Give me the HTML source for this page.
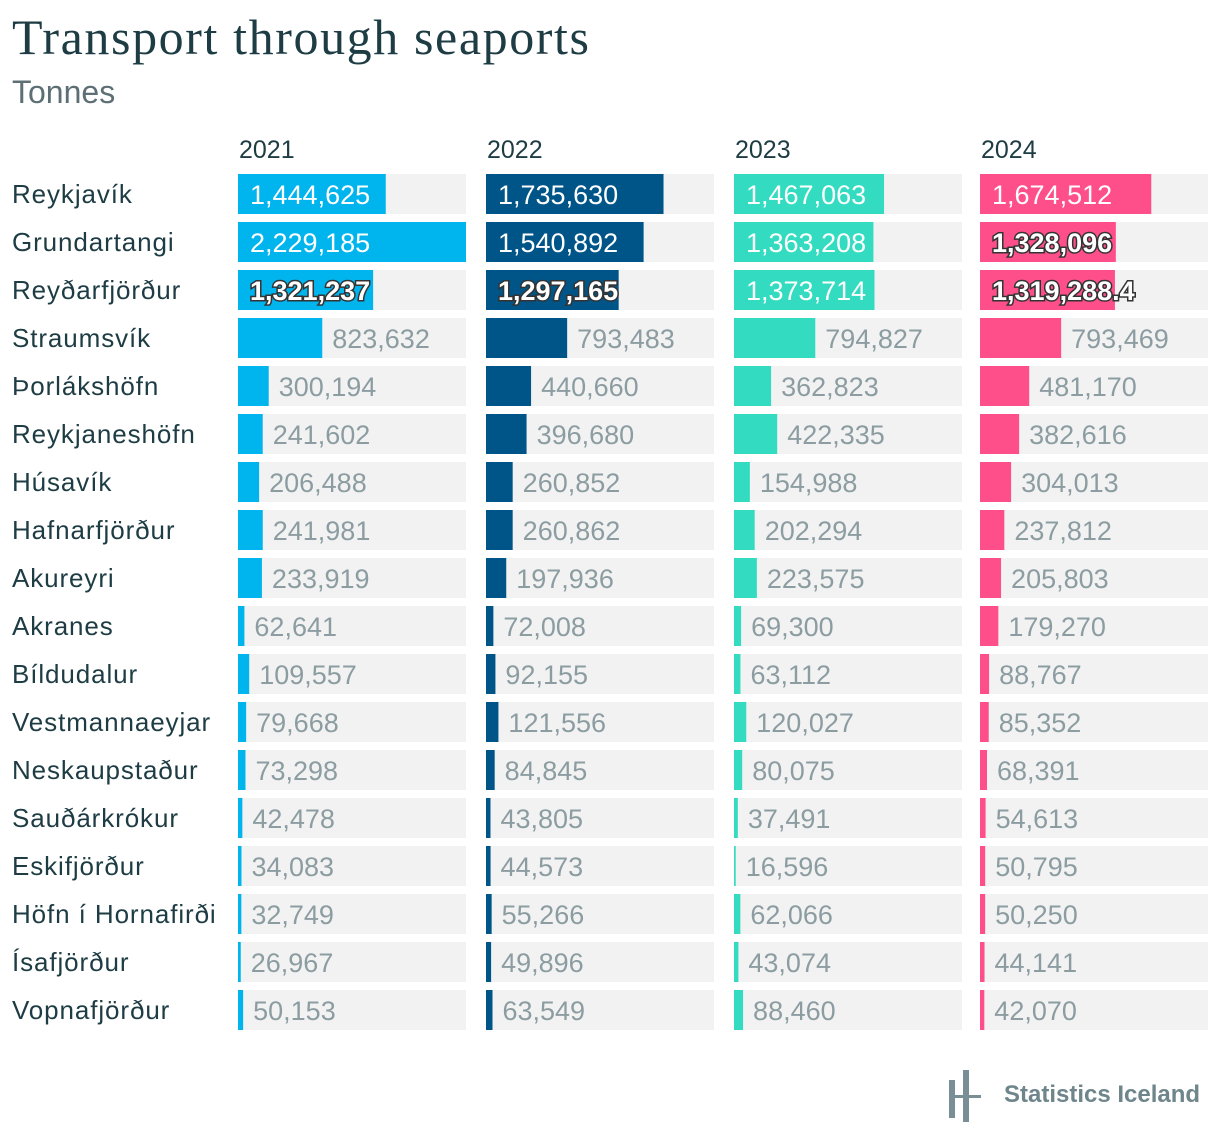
<!DOCTYPE html>
<html><head><meta charset="utf-8"><style>
body{margin:0;width:1220px;height:1146px;background:#fff;font-family:"Liberation Sans",sans-serif;position:relative;overflow:hidden}
.t{position:absolute;white-space:nowrap}
</style></head><body>
<div class="t" style="left:12px;top:8px;font-family:'Liberation Serif',serif;font-size:50px;letter-spacing:1.6px;color:#1d3c43">Transport through seaports</div>
<div class="t" style="left:12px;top:74px;font-size:32px;color:#5d6f75;font-weight:300">Tonnes</div>
<svg id="chart" width="1220" height="1146" style="position:absolute;left:0;top:0"></svg>
<div class="t" style="left:946px;top:1070px;width:260px;height:52px">
<svg width="40" height="52" style="position:absolute;left:0;top:0"><rect x="3" y="10" width="6" height="38" fill="#7a8f95"/><rect x="17" y="0" width="6" height="52" fill="#7a8f95"/><rect x="3" y="25" width="32" height="3" fill="#7a8f95"/></svg>
<span style="position:absolute;left:58px;top:11px;font-size:24px;color:#6e858b;font-weight:bold">Statistics Iceland</span></div>
<script>
const categories=["Reykjavík","Grundartangi","Reyðarfjörður","Straumsvík","Þorlákshöfn","Reykjaneshöfn","Húsavík","Hafnarfjörður","Akureyri","Akranes","Bíldudalur","Vestmannaeyjar","Neskaupstaður","Sauðárkrókur","Eskifjörður","Höfn í Hornafirði","Ísafjörður","Vopnafjörður"];
const years=["2021","2022","2023","2024"];
const v2021=[1444625,2229185,1321237,823632,300194,241602,206488,241981,233919,62641,109557,79668,73298,42478,34083,32749,26967,50153];
const v2022=[1735630,1540892,1297165,793483,440660,396680,260852,260862,197936,72008,92155,121556,84845,43805,44573,55266,49896,63549];
const v2023=[1467063,1363208,1373714,794827,362823,422335,154988,202294,223575,69300,63112,120027,80075,37491,16596,62066,43074,88460];
const v2024=[1674512,1328096,1319288.4,793469,481170,382616,304013,237812,205803,179270,88767,85352,68391,54613,50795,50250,44141,42070];
const series=[v2021,v2022,v2023,v2024];
const colors=["#00b4ee","#005588","#33dcc0","#ff4f8a"];
const colX=[238,486,734,980], colW=228, rowY0=174, rowH=48, barH=40;
const maxV=Math.max(...series.flat());
const x=v=>v/maxV*colW;
const y=i=>rowY0+i*rowH;
const fmt=v=>{const s=String(v).split('.');return s[0].replace(/\B(?=(\d{3})+(?!\d))/g,',')+(s[1]?'.'+s[1]:'');};
const svg=document.getElementById('chart');const NS='http://www.w3.org/2000/svg';
function mk(t,a){const e=document.createElementNS(NS,t);for(const k in a)e.setAttribute(k,a[k]);svg.appendChild(e);return e;}
categories.forEach((c,i)=>{const t=mk('text',{x:12,y:y(i)+29,'font-size':26,'letter-spacing':0.9,fill:'#1d3c43'});t.textContent=c;

});
years.forEach((yr,j)=>{const t=mk('text',{x:colX[j]+1,y:158,'font-size':25,fill:'#1d3c43'});t.textContent=yr;


series[j].forEach((v,i)=>{
const bg=mk('rect',{x:colX[j],y:y(i),width:colW,height:barH,fill:'#f2f2f2'});


const w=x(v);const b=mk('rect',{x:colX[j],y:y(i),width:w,height:barH,fill:colors[j]});


let lab;
if(v>=1290000){
 if(v<1350000){lab=mk('text',{x:colX[j]+12,y:y(i)+30,'font-size':27,fill:'#fff',stroke:'#333',"stroke-width":3,"paint-order":"stroke",'font-weight':'bold'});}
 else lab=mk('text',{x:colX[j]+12,y:y(i)+30,'font-size':27,fill:'#fff'});
}else lab=mk('text',{x:colX[j]+w+10,y:y(i)+30,'font-size':27,fill:'#8c9da2'});
lab.textContent=fmt(v);


});});
</script>
</body></html>
